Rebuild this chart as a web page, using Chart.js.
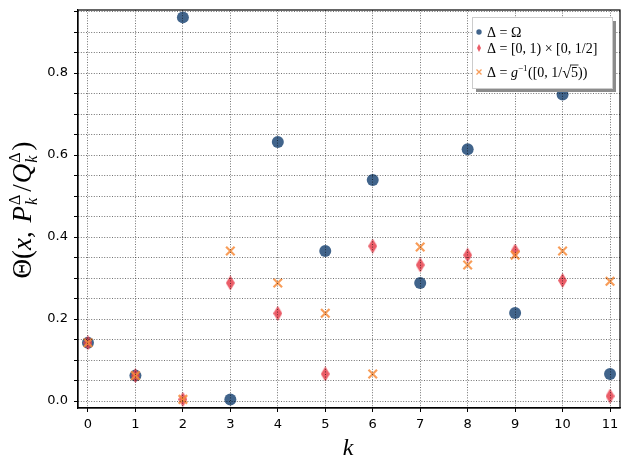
<!DOCTYPE html>
<html>
<head>
<meta charset="utf-8">
<script src="https://cdn.jsdelivr.net/npm/chart.js@4"></script>
<style>
  html, body { margin: 0; padding: 0; background: #fff; }
  #wrap { width: 630px; height: 470px; }
</style>
</head>
<body>
<div id="wrap"><canvas id="thetaChart" width="630" height="470"></canvas></div>
<script>
// data
const kValues = [0, 1, 2, 3, 4, 5, 6, 7, 8, 9, 10, 11];
const thetaOmega = [0.142, 0.062, 0.936, 0.004, 0.632, 0.366, 0.539, 0.288, 0.614, 0.215, 0.748, 0.066];
const thetaRect  = [0.142, 0.062, 0.004, 0.288, 0.214, 0.066, 0.378, 0.332, 0.356, 0.366, 0.294, 0.012];
const thetaG     = [0.142, 0.062, 0.004, 0.366, 0.288, 0.214, 0.066, 0.376, 0.332, 0.356, 0.366, 0.292];

const xTicks = [0, 1, 2, 3, 4, 5, 6, 7, 8, 9, 10, 11];
const yGridTicks = [0, 0.05, 0.1, 0.15, 0.2, 0.25, 0.3, 0.35, 0.4, 0.45, 0.5, 0.55, 0.6, 0.65, 0.7, 0.75, 0.8, 0.85, 0.9, 0.95];
const yTickLabels = ['0.0', '0.2', '0.4', '0.6', '0.8'];

const BLUE = 'rgba(44, 83, 126, 0.9)';
const RED = 'rgba(232, 65, 78, 0.85)';
const ORANGE = 'rgba(247, 140, 60, 0.85)';

const SERIF = '"Liberation Serif", "DejaVu Serif", serif';

// thin diamond marker (like matplotlib 'd')
function thinDiamond(w, h, color) {
    const c = document.createElement('canvas');
    c.width = w; c.height = h;
    const g = c.getContext('2d');
    g.fillStyle = color;
    g.beginPath();
    g.moveTo(w / 2, 0);
    g.lineTo(w, h / 2);
    g.lineTo(w / 2, h);
    g.lineTo(0, h / 2);
    g.closePath();
    g.fill();
    return c;
}
const diamondImg = thinDiamond(9, 15, RED);

function toPoints(ys) {
    return kValues.map((k, i) => ({ x: k, y: ys[i] }));
}

// draws a row of text pieces; stacked pieces have sup/sub
function drawRich(ctx, x, y, segs, measureOnly) {
    let cx = x;
    segs.forEach(s => {
        if (s.stack) {
            ctx.font = s.font;
            const w1 = ctx.measureText(s.sup).width;
            ctx.font = s.subFont || s.font;
            const w2 = ctx.measureText(s.sub).width;
            if (!measureOnly) {
                ctx.font = s.font;
                ctx.fillText(s.sup, cx, y + s.supDy);
                ctx.font = s.subFont || s.font;
                ctx.fillText(s.sub, cx, y + s.subDy);
            }
            cx += Math.max(w1, w2) + (s.gap || 0);
        } else {
            ctx.font = s.font;
            const w = ctx.measureText(s.t).width;
            if (!measureOnly) {
                ctx.fillText(s.t, cx, y + (s.dy || 0));
                if (s.overline) {
                    ctx.save();
                    ctx.lineWidth = 0.8;
                    ctx.strokeStyle = ctx.fillStyle;
                    ctx.beginPath();
                    ctx.moveTo(cx - 1, y + s.overline);
                    ctx.lineTo(cx + w + 0.5, y + s.overline);
                    ctx.stroke();
                    ctx.restore();
                }
            }
            cx += w + (s.gap || 0);
        }
    });
    return cx - x;
}

const LF = '14px ' + SERIF, LFI = 'italic 14px ' + SERIF;
const legendItems = [
    { kind: 'circle', color: BLUE, segs: [
        { t: 'Δ = Ω', font: LF }
    ]},
    { kind: 'diamond', color: RED, segs: [
        { t: 'Δ = [0, 1) × [0, 1/2]', font: LF }
    ]},
    { kind: 'cross', color: ORANGE, segs: [
        { t: 'Δ = ', font: LF },
        { t: 'g', font: LFI },
        { t: '−1', font: '9px ' + SERIF, dy: -6, gap: 0.5 },
        { t: '([0, 1/', font: LF },
        { t: '√', font: '16px ' + SERIF, dy: 1 },
        { t: '5', font: LF, overline: -12 },
        { t: '))', font: LF }
    ]}
];

const frameAndLabels = {
    id: 'frameAndLabels',
    afterDraw(chart) {
        const ctx = chart.ctx;
        const a = chart.chartArea;
        ctx.save();
        ctx.strokeStyle = '#000';
        ctx.lineWidth = 1.2;
        ctx.strokeRect(a.left, a.top, a.right - a.left, a.bottom - a.top);
        ctx.restore();

        ctx.save();
        ctx.fillStyle = '#000';
        ctx.textBaseline = 'alphabetic';

        // x title
        ctx.font = 'italic 24px ' + SERIF;
        ctx.textAlign = 'center';
        ctx.fillText('k', 348, 455);

        // y title, rotated
        ctx.textAlign = 'left';
        const M = '27px ' + SERIF, MI = 'italic 27px ' + SERIF;
        const S = '16px ' + SERIF, SI = 'italic 16px ' + SERIF;
        const ySegs = [
            { t: 'Θ(', font: M },
            { t: 'x', font: MI },
            { t: ', ', font: M, gap: 2 },
            { t: 'P', font: MI, gap: 1 },
            { stack: true, sup: 'Δ', sub: 'k', font: S, subFont: SI, supDy: -11, subDy: 6, gap: 3 },
            { t: '/', font: M, gap: 1 },
            { t: 'Q', font: MI, gap: 1 },
            { stack: true, sup: 'Δ', sub: 'k', font: S, subFont: SI, supDy: -11, subDy: 6, gap: 2 },
            { t: ')', font: M }
        ];
        ctx.translate(31, 210);
        ctx.rotate(-Math.PI / 2);
        const w = drawRich(ctx, 0, 0, ySegs, true);
        drawRich(ctx, -w / 2, 0, ySegs, false);
        ctx.restore();

        // legend box with shadow
        const bx = 472, by = 17, bw = 140, bh = 71;
        ctx.save();
        ctx.fillStyle = '#8c8c8c';
        ctx.fillRect(bx + 4, by + 4, bw, bh);
        ctx.fillStyle = '#fff';
        ctx.fillRect(bx, by, bw, bh);
        ctx.strokeStyle = '#cccccc';
        ctx.lineWidth = 1;
        ctx.strokeRect(bx + 0.5, by + 0.5, bw, bh);
        const rowsY = [32, 48, 72];
        legendItems.forEach((it, i) => {
            const cy = rowsY[i], mx = 479;
            ctx.fillStyle = it.color;
            ctx.strokeStyle = it.color;
            if (it.kind === 'circle') {
                ctx.beginPath();
                ctx.arc(mx, cy, 2.7, 0, Math.PI * 2);
                ctx.fill();
            } else if (it.kind === 'diamond') {
                ctx.beginPath();
                ctx.moveTo(mx, cy - 4); ctx.lineTo(mx + 2, cy);
                ctx.lineTo(mx, cy + 4); ctx.lineTo(mx - 2, cy);
                ctx.closePath();
                ctx.fill();
            } else {
                ctx.lineWidth = 1.3;
                ctx.beginPath();
                ctx.moveTo(mx - 2.5, cy - 2.5); ctx.lineTo(mx + 2.5, cy + 2.5);
                ctx.moveTo(mx + 2.5, cy - 2.5); ctx.lineTo(mx - 2.5, cy + 2.5);
                ctx.stroke();
            }
            ctx.fillStyle = '#000';
            ctx.textAlign = 'left';
            drawRich(ctx, 487, cy + 5, it.segs, false);
        });
        ctx.restore();
    }
};

const gridStyle = {
    color: 'rgba(0, 0, 0, 0.7)',
    lineWidth: 0.8,
    z: 1,
    drawTicks: true,
    tickLength: 4,
    tickColor: '#000',
    tickWidth: 1,
    tickBorderDash: []
};
const borderStyle = { display: true, color: '#000', width: 1.2, dash: [1, 1.6], z: 2 };

const ctx = document.getElementById('thetaChart').getContext('2d');
new Chart(ctx, {
    type: 'scatter',
    data: {
        datasets: [
            {
                label: 'Δ = Ω',
                data: toPoints(thetaOmega),
                pointStyle: 'circle',
                pointRadius: 6,
                backgroundColor: BLUE,
                borderWidth: 0,
                order: 3
            },
            {
                label: 'Δ = [0, 1) × [0, 1/2]',
                data: toPoints(thetaRect),
                pointStyle: diamondImg,
                pointRadius: 6,
                backgroundColor: RED,
                borderWidth: 0,
                order: 2
            },
            {
                label: 'Δ = g⁻¹([0, 1/√5))',
                data: toPoints(thetaG),
                pointStyle: 'crossRot',
                pointRadius: 6,
                borderColor: ORANGE,
                backgroundColor: ORANGE,
                borderWidth: 2.2,
                order: 1
            }
        ]
    },
    options: {
        responsive: false,
        animation: false,
        layout: { padding: { left: 0, right: 10, top: 10, bottom: 0 } },
        plugins: {
            legend: { display: false },
            tooltip: { enabled: false }
        },
        scales: {
            x: {
                type: 'linear',
                min: -0.21,
                max: 11.21,
                afterBuildTicks: s => { s.ticks = xTicks.map(v => ({ value: v })); },
                afterFit: s => { s.height = 62; s.paddingLeft = 0; s.paddingRight = 0; },
                ticks: {
                    autoSkip: false,
                    maxRotation: 0,
                    padding: 5,
                    color: '#000',
                    font: { family: 'DejaVu Sans', size: 13 },
                    callback: v => String(v)
                },
                grid: gridStyle,
                border: borderStyle
            },
            y: {
                type: 'linear',
                min: -0.017,
                max: 0.954,
                afterBuildTicks: s => { s.ticks = yGridTicks.map(v => ({ value: v })); },
                afterFit: s => { s.width = 78; s.paddingTop = 0; s.paddingBottom = 0; },
                ticks: {
                    autoSkip: false,
                    padding: 6,
                    color: '#000',
                    font: { family: 'DejaVu Sans', size: 13 },
                    callback: v => {
                        const idx = Math.round(v / 0.2);
                        return Math.abs(v - idx * 0.2) < 1e-6 ? yTickLabels[idx] : '';
                    }
                },
                grid: gridStyle,
                border: borderStyle
            }
        }
    },
    plugins: [frameAndLabels]
});
</script>
</body>
</html>
